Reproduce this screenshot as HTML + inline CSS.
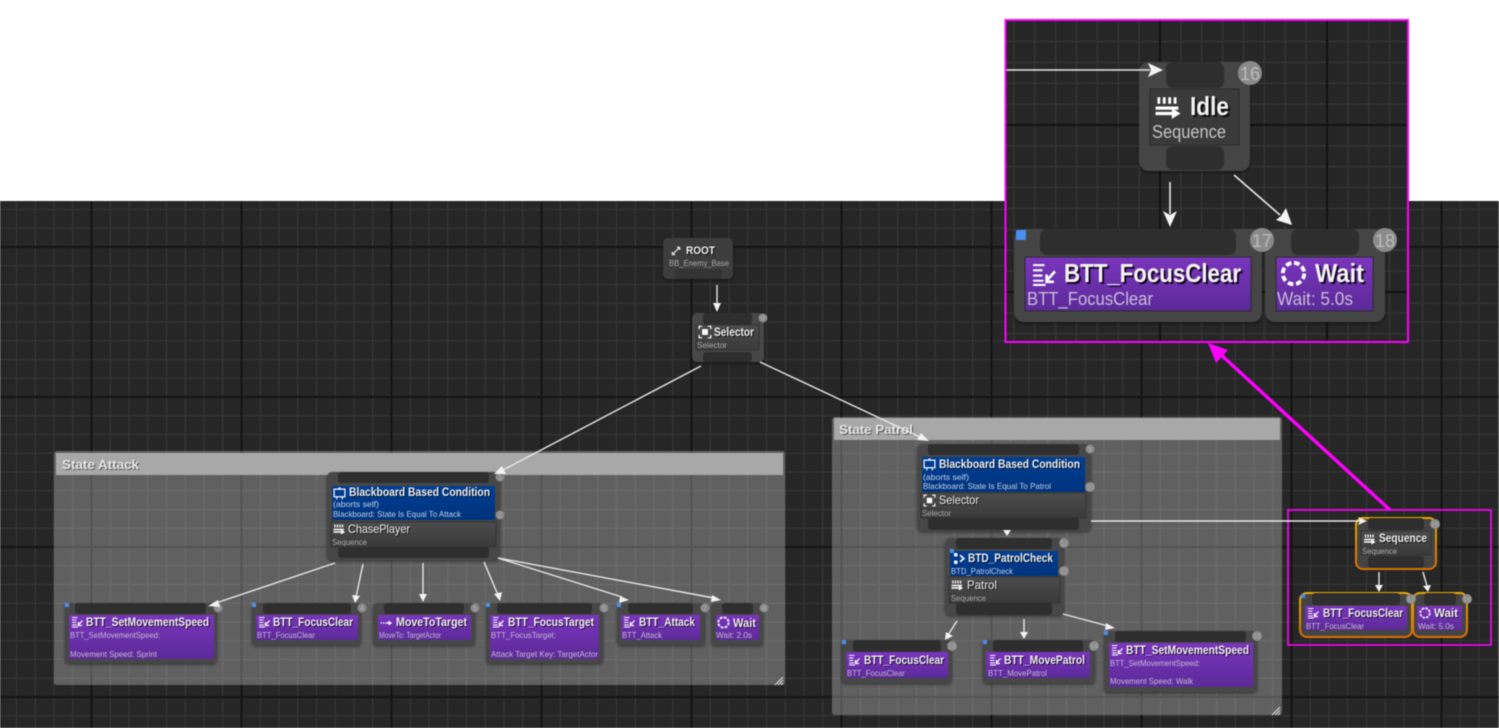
<!DOCTYPE html>
<html><head><meta charset="utf-8"><style>
html,body{margin:0;padding:0;background:#fff}
svg{display:block;filter:blur(.4px)}
text{font-family:"Liberation Sans",sans-serif}
.t{font-weight:700;font-size:12px;fill:#f2f2f2;filter:drop-shadow(1px 1px 0 rgba(0,0,0,.7))}
.s{font-size:8.5px;fill:#c4b8d4}
.g{font-size:8.5px;fill:#aaa}
.b{font-size:8.5px;fill:#c0d0e8}
.gt{font-weight:700;font-size:13px;fill:#e8e8e8;filter:drop-shadow(1px 1px 0 rgba(0,0,0,.5))}
.T{font-weight:700;font-size:26px;fill:#f4f4f4;filter:drop-shadow(2px 2px 0 rgba(0,0,0,.8))}
.S{font-size:18px;fill:#c8bcd8}
.w{stroke:#e8e8e8;stroke-width:1.4;fill:none}
.n{fill:#474747}
.p{fill:#2e2e2e}
.o{fill:#444;stroke:url(#or);stroke-width:2}
.c{font-size:7px;fill:#b0b0b0;text-anchor:middle}
.k{fill:#8a8a8a}
</style></head><body>
<svg width="1499" height="728" viewBox="0 0 1499 728" xmlns="http://www.w3.org/2000/svg">
<defs>
<pattern id="gm" patternUnits="userSpaceOnUse" x="90.5" y="96" width="150" height="150">
<rect width="150" height="150" fill="#262626"/>
<path d="M19.75 0V150M38.5 0V150M57.25 0V150M76 0V150M94.75 0V150M113.5 0V150M132.25 0V150M0 19.75H150M0 38.5H150M0 57.25H150M0 76H150M0 94.75H150M0 113.5H150M0 132.25H150" stroke="#343434" stroke-width="1.3"/>
<path d="M1 0V150M0 1H150" stroke="#111" stroke-width="1.8"/>
</pattern>
<pattern id="gi" patternUnits="userSpaceOnUse" x="1159" y="124" width="167" height="167">
<rect width="167" height="167" fill="#262626"/>
<path d="M21.9 0V167M42.75 0V167M63.6 0V167M84.5 0V167M105.4 0V167M126.25 0V167M147.1 0V167M0 21.9H167M0 42.75H167M0 63.6H167M0 84.5H167M0 105.4H167M0 126.25H167M0 147.1H167" stroke="#343434" stroke-width="1.4"/>
<path d="M1 0V167M0 1H167" stroke="#111" stroke-width="2"/>
</pattern>
<linearGradient id="pu" x1="0" y1="0" x2="0" y2="1"><stop offset="0" stop-color="#7a35bd"/><stop offset="1" stop-color="#5b2a98"/></linearGradient>
<linearGradient id="gr" x1="0" y1="0" x2="0" y2="1"><stop offset="0" stop-color="#4c4c4c"/><stop offset="1" stop-color="#3a3a3a"/></linearGradient>
<linearGradient id="bl" x1="0" y1="0" x2="0" y2="1"><stop offset="0" stop-color="#003f94"/><stop offset="1" stop-color="#00337c"/></linearGradient>
<linearGradient id="or" x1="0" y1="0" x2="0" y2="1"><stop offset="0" stop-color="#e8a800"/><stop offset="1" stop-color="#d86f00"/></linearGradient>
<filter id="ds" x="-10%" y="-10%" width="120%" height="125%"><feDropShadow dx="0" dy="1.5" stdDeviation="1.5" flood-color="#000" flood-opacity=".45"/></filter>
<symbol id="iq" viewBox="0 0 24 24"><path d="M4 3V9M9 3V9M14 3V9M19 3V9" stroke="#fff" stroke-width="2.6"/><path d="M1 13H22M1 18H17" stroke="#fff" stroke-width="3"/><path d="M16 13L24 18L16 23Z" fill="#fff"/></symbol>
<symbol id="it" viewBox="0 0 24 24"><path d="M2 3H13M2 8H11M2 13H11M2 18H12M2 22H14" stroke="#fff" stroke-width="2"/><path d="M23 9L15 18M15 12V19H22" stroke="#fff" stroke-width="2.6" fill="none"/></symbol>
<symbol id="iw" viewBox="0 0 24 24"><circle cx="12" cy="12" r="9.5" fill="none" stroke="#fff" stroke-width="3.4" stroke-dasharray="5 2.5"/></symbol>
<symbol id="is" viewBox="0 0 24 24"><path d="M2 7V2H7M17 2H22V7M2 17V22H7M17 22H22V17" stroke="#fff" stroke-width="2" fill="none"/><rect x="7" y="7" width="10" height="10" fill="#fff"/></symbol>
<symbol id="ib" viewBox="0 0 24 24"><rect x="2" y="4" width="20" height="14" fill="none" stroke="#fff" stroke-width="2.2"/><path d="M7 18V23M17 18V23M10 2H14" stroke="#fff" stroke-width="2"/></symbol>
<symbol id="id" viewBox="0 0 24 24"><circle cx="6" cy="5" r="3.5" fill="#fff"/><circle cx="6" cy="19" r="3.5" fill="#fff"/><path d="M14 6L21 12L14 18" stroke="#fff" stroke-width="3" fill="none"/></symbol>
<symbol id="ir" viewBox="0 0 24 24"><path d="M5 19L19 5M19 5H13M19 5V11M3 15V21H9" stroke="#fff" stroke-width="2.4" fill="none"/></symbol>
<symbol id="im" viewBox="0 0 24 24"><path d="M1 12H4M6 12H9M11 12H19" stroke="#fff" stroke-width="2.6"/><path d="M17 7L24 12L17 17Z" fill="#fff"/></symbol>
</defs>

<rect x="0" y="201" width="1499" height="527" fill="url(#gm)"/>

<!-- groups -->
<rect x="54" y="451" width="731" height="234" rx="3" fill="#fff" fill-opacity=".27"/>
<rect x="56" y="453" width="727" height="22" fill="#a8a8a8"/>
<text class="gt" x="62" y="469" textLength="77" lengthAdjust="spacingAndGlyphs">State Attack</text>
<path d="M783 677L775 685M783 680L778 685M783 683L781 685" stroke="#ddd" stroke-width="1"/>

<rect x="832" y="417" width="450" height="298" rx="3" fill="#fff" fill-opacity=".27"/>
<rect x="834" y="418" width="446" height="22" fill="#a8a8a8"/>
<text class="gt" x="839" y="434" textLength="74" lengthAdjust="spacingAndGlyphs">State Patrol</text>
<path d="M1280 707L1272 715M1280 710L1275 715M1280 713L1278 715" stroke="#ddd" stroke-width="1"/>

<!-- ROOT -->
<g filter="url(#ds)"><rect x="663" y="238" width="70" height="41" rx="5" fill="#3e3e3e"/></g>
<rect x="675" y="269" width="47" height="10" rx="2" fill="#343434"/>
<use href="#ir" x="671" y="245" width="11" height="11"/>
<text class="t" x="686" y="254" style="font-size:11px" textLength="29" lengthAdjust="spacingAndGlyphs">ROOT</text>
<text class="g" x="669" y="266" textLength="60" lengthAdjust="spacingAndGlyphs">BB_Enemy_Base</text>

<!-- Selector -->
<g filter="url(#ds)"><rect x="692" y="313" width="72" height="49" rx="5" class="n"/></g>
<rect x="703" y="313" width="49" height="12" rx="3" class="p"/>
<rect x="696" y="325" width="63" height="25" fill="url(#gr)" stroke="#333"/>
<rect x="703" y="352" width="49" height="10" rx="3" class="p"/>
<use href="#is" x="698" y="325" width="14" height="14"/>
<text class="t" x="714" y="336" textLength="40" lengthAdjust="spacingAndGlyphs">Selector</text>
<text class="g" x="697" y="348" textLength="30" lengthAdjust="spacingAndGlyphs">Selector</text>
<circle cx="763" cy="318" r="4.5" class="k"/><text class="c" x="763" y="320.5">0</text>

<!-- BB attack -->
<g filter="url(#ds)"><rect x="327" y="472" width="173" height="88" rx="5" class="n"/></g>
<rect x="338" y="472" width="151" height="11" rx="3" class="p"/>
<rect x="332" y="486" width="163" height="34" fill="url(#bl)"/>
<rect x="331" y="522" width="165" height="25" fill="url(#gr)" stroke="#333"/>
<rect x="338" y="547" width="151" height="11" rx="3" class="p"/>
<use href="#ib" x="333" y="487" width="13" height="13"/>
<text class="t" x="349" y="496" textLength="141" lengthAdjust="spacingAndGlyphs">Blackboard Based Condition</text>
<text class="b" x="333" y="507" textLength="46" lengthAdjust="spacingAndGlyphs">(aborts self)</text>
<text class="b" x="333" y="517" textLength="128" lengthAdjust="spacingAndGlyphs">Blackboard: State Is Equal To Attack</text>
<use href="#iq" x="333" y="523" width="12" height="12"/>
<text class="t" x="348" y="533" textLength="62" lengthAdjust="spacingAndGlyphs" style="font-weight:400">ChasePlayer</text>
<text class="g" x="332" y="545" textLength="35" lengthAdjust="spacingAndGlyphs">Sequence</text>
<circle cx="500" cy="477" r="4.5" class="k"/><text class="c" x="500" y="479.5">1</text>
<circle cx="500" cy="515" r="4.5" class="k"/><text class="c" x="500" y="517.5">2</text>

<!-- attack tasks -->
<g filter="url(#ds)"><rect x="65" y="603" width="152" height="60" rx="4" class="n"/></g>
<rect x="75" y="603" width="131" height="11" rx="3" class="p"/><rect x="69" y="615" width="145" height="44" fill="url(#pu)"/>
<use href="#it" x="71" y="616" width="12" height="12"/>
<text class="t" x="86" y="626" textLength="123" lengthAdjust="spacingAndGlyphs">BTT_SetMovementSpeed</text>
<text class="s" x="70" y="638" textLength="90" lengthAdjust="spacingAndGlyphs">BTT_SetMovementSpeed:</text>
<text class="s" x="70" y="657" textLength="87" lengthAdjust="spacingAndGlyphs">Movement Speed: Sprint</text>
<circle cx="218" cy="608" r="4.5" class="k"/><text class="c" x="218" y="610.5">3</text><rect x="65" y="603" width="4" height="4" fill="#4a8ff0"/>

<g filter="url(#ds)"><rect x="252" y="603" width="109" height="42" rx="4" class="n"/></g>
<rect x="263" y="603" width="88" height="11" rx="3" class="p"/><rect x="256" y="615" width="102" height="25" fill="url(#pu)"/>
<use href="#it" x="258" y="616" width="12" height="12"/>
<text class="t" x="273" y="626" textLength="80" lengthAdjust="spacingAndGlyphs">BTT_FocusClear</text>
<text class="s" x="257" y="638" textLength="58" lengthAdjust="spacingAndGlyphs">BTT_FocusClear</text>
<circle cx="362" cy="608" r="4.5" class="k"/><text class="c" x="362" y="610.5">4</text><rect x="252" y="603" width="4" height="4" fill="#4a8ff0"/>

<g filter="url(#ds)"><rect x="373" y="603" width="102" height="42" rx="4" class="n"/></g>
<rect x="384" y="603" width="80" height="11" rx="3" class="p"/><rect x="378" y="615" width="93" height="25" fill="url(#pu)"/>
<use href="#im" x="380" y="617" width="12" height="12"/>
<text class="t" x="396" y="626" textLength="71" lengthAdjust="spacingAndGlyphs">MoveToTarget</text>
<text class="s" x="379" y="638" textLength="62" lengthAdjust="spacingAndGlyphs">MoveTo: TargetActor</text>
<circle cx="475" cy="608" r="4.5" class="k"/><text class="c" x="475" y="610.5">5</text>

<g filter="url(#ds)"><rect x="486" y="603" width="117" height="60" rx="4" class="n"/></g>
<rect x="497" y="603" width="95" height="11" rx="3" class="p"/><rect x="490" y="615" width="109" height="44" fill="url(#pu)"/>
<use href="#it" x="492" y="616" width="12" height="12"/>
<text class="t" x="508" y="626" textLength="86" lengthAdjust="spacingAndGlyphs">BTT_FocusTarget</text>
<text class="s" x="491" y="638" textLength="65" lengthAdjust="spacingAndGlyphs">BTT_FocusTarget:</text>
<text class="s" x="491" y="657" textLength="107" lengthAdjust="spacingAndGlyphs">Attack Target Key: TargetActor</text>
<circle cx="604" cy="608" r="4.5" class="k"/><text class="c" x="604" y="610.5">6</text><rect x="486" y="603" width="4" height="4" fill="#4a8ff0"/>

<g filter="url(#ds)"><rect x="617" y="603" width="88" height="42" rx="4" class="n"/></g>
<rect x="628" y="603" width="65" height="11" rx="3" class="p"/><rect x="621" y="615" width="79" height="25" fill="url(#pu)"/>
<use href="#it" x="623" y="616" width="12" height="12"/>
<text class="t" x="639" y="626" textLength="56" lengthAdjust="spacingAndGlyphs">BTT_Attack</text>
<text class="s" x="622" y="638" textLength="40" lengthAdjust="spacingAndGlyphs">BTT_Attack</text>
<circle cx="705" cy="608" r="4.5" class="k"/><text class="c" x="705" y="610.5">7</text><rect x="617" y="603" width="4" height="4" fill="#4a8ff0"/>

<g filter="url(#ds)"><rect x="711" y="603" width="52" height="42" rx="4" class="n"/></g>
<rect x="722" y="603" width="31" height="11" rx="3" class="p"/><rect x="716" y="615" width="43" height="25" fill="url(#pu)"/>
<use href="#iw" x="717" y="616" width="13" height="13"/>
<text class="t" x="733" y="627" textLength="23" lengthAdjust="spacingAndGlyphs">Wait</text>
<text class="s" x="716" y="638" textLength="36" lengthAdjust="spacingAndGlyphs">Wait: 2.0s</text>
<circle cx="764" cy="608" r="4.5" class="k"/><text class="c" x="764" y="610.5">8</text>

<!-- BB patrol -->
<g filter="url(#ds)"><rect x="917" y="444" width="174" height="87" rx="5" class="n"/></g>
<rect x="928" y="444" width="151" height="11" rx="3" class="p"/>
<rect x="922" y="457" width="163" height="35" fill="url(#bl)"/>
<rect x="921" y="493" width="165" height="25" fill="url(#gr)" stroke="#333"/>
<rect x="928" y="518" width="151" height="12" rx="3" class="p"/>
<use href="#ib" x="923" y="458" width="13" height="13"/>
<text class="t" x="939" y="468" textLength="141" lengthAdjust="spacingAndGlyphs">Blackboard Based Condition</text>
<text class="b" x="923" y="480" textLength="46" lengthAdjust="spacingAndGlyphs">(aborts self)</text>
<text class="b" x="923" y="489" textLength="128" lengthAdjust="spacingAndGlyphs">Blackboard: State Is Equal To Patrol</text>
<use href="#is" x="923" y="494" width="13" height="13"/>
<text class="t" x="939" y="504" textLength="40" lengthAdjust="spacingAndGlyphs" style="font-weight:400">Selector</text>
<text class="g" x="922" y="516" textLength="29" lengthAdjust="spacingAndGlyphs">Selector</text>
<circle cx="1090" cy="449" r="4.5" class="k"/><text class="c" x="1090" y="451.5">9</text>
<circle cx="1090" cy="487" r="5" class="k"/><text class="c" x="1090" y="489.5">10</text>

<!-- BTD -->
<g filter="url(#ds)"><rect x="945" y="538" width="119" height="77" rx="5" class="n"/></g>
<rect x="956" y="538" width="96" height="11" rx="3" class="p"/>
<rect x="950" y="551" width="108" height="25" fill="url(#bl)"/>
<rect x="949" y="577" width="111" height="26" fill="url(#gr)" stroke="#333"/>
<rect x="956" y="603" width="96" height="12" rx="3" class="p"/>
<use href="#id" x="952" y="552" width="14" height="13"/>
<text class="t" x="968" y="562" textLength="85" lengthAdjust="spacingAndGlyphs">BTD_PatrolCheck</text>
<text class="b" x="951" y="574" textLength="62" lengthAdjust="spacingAndGlyphs">BTD_PatrolCheck</text>
<use href="#iq" x="951" y="579" width="12" height="12"/>
<text class="t" x="967" y="589" textLength="30" lengthAdjust="spacingAndGlyphs" style="font-weight:400">Patrol</text>
<text class="g" x="951" y="601" textLength="35" lengthAdjust="spacingAndGlyphs">Sequence</text>
<circle cx="1064" cy="543" r="5" class="k"/><text class="c" x="1064" y="545.5">11</text>
<circle cx="1064" cy="571" r="5" class="k"/><text class="c" x="1064" y="573.5">12</text>
<rect x="950" y="549" width="4" height="4" fill="#4a8ff0"/>

<!-- patrol tasks -->
<g filter="url(#ds)"><rect x="842" y="640" width="110" height="43" rx="4" class="n"/></g>
<rect x="853" y="640" width="88" height="12" rx="3" class="p"/><rect x="846" y="652" width="102" height="26" fill="url(#pu)"/>
<use href="#it" x="848" y="654" width="12" height="12"/>
<text class="t" x="864" y="664" textLength="80" lengthAdjust="spacingAndGlyphs">BTT_FocusClear</text>
<text class="s" x="847" y="676" textLength="58" lengthAdjust="spacingAndGlyphs">BTT_FocusClear</text>
<circle cx="952" cy="646" r="5" class="k"/><text class="c" x="952" y="648.5">13</text><rect x="842" y="640" width="4" height="4" fill="#4a8ff0"/>

<g filter="url(#ds)"><rect x="983" y="640" width="112" height="43" rx="4" class="n"/></g>
<rect x="993" y="640" width="90" height="12" rx="3" class="p"/><rect x="986" y="652" width="104" height="26" fill="url(#pu)"/>
<use href="#it" x="989" y="654" width="12" height="12"/>
<text class="t" x="1004" y="664" textLength="81" lengthAdjust="spacingAndGlyphs">BTT_MovePatrol</text>
<text class="s" x="988" y="676" textLength="59" lengthAdjust="spacingAndGlyphs">BTT_MovePatrol</text>
<circle cx="1094" cy="646" r="5" class="k"/><text class="c" x="1094" y="648.5">14</text><rect x="983" y="640" width="4" height="4" fill="#4a8ff0"/>

<g filter="url(#ds)"><rect x="1104" y="631" width="153" height="61" rx="4" class="n"/></g>
<rect x="1115" y="631" width="131" height="11" rx="3" class="p"/><rect x="1109" y="643" width="144" height="44" fill="url(#pu)"/>
<use href="#it" x="1111" y="644" width="12" height="12"/>
<text class="t" x="1126" y="654" textLength="123" lengthAdjust="spacingAndGlyphs">BTT_SetMovementSpeed</text>
<text class="s" x="1110" y="666" textLength="90" lengthAdjust="spacingAndGlyphs">BTT_SetMovementSpeed:</text>
<text class="s" x="1110" y="684" textLength="83" lengthAdjust="spacingAndGlyphs">Movement Speed: Walk</text>
<circle cx="1257" cy="636" r="5" class="k"/><text class="c" x="1257" y="638.5">15</text><rect x="1104" y="631" width="4" height="4" fill="#4a8ff0"/>

<!-- small highlighted group -->
<rect x="1356" y="518" width="80" height="51" rx="7" class="o"/>
<rect x="1368" y="518" width="56" height="12" rx="3" class="p"/>
<rect x="1361" y="531" width="70" height="24" fill="url(#gr)" stroke="#333"/>
<rect x="1368" y="556" width="56" height="12" rx="3" class="p"/>
<use href="#iq" x="1363" y="533" width="13" height="12"/>
<text class="t" x="1379" y="542" textLength="48" lengthAdjust="spacingAndGlyphs">Sequence</text>
<text class="g" x="1362" y="554" textLength="35" lengthAdjust="spacingAndGlyphs">Sequence</text>
<circle cx="1435" cy="524" r="5" class="k"/><text class="c" x="1435" y="526.5">16</text>

<rect x="1413" y="593" width="54" height="44" rx="7" class="o"/>
<rect x="1424" y="593" width="32" height="12" rx="3" class="p"/>
<rect x="1417" y="606" width="45" height="24" fill="url(#pu)"/>
<use href="#iw" x="1419" y="607" width="12" height="12"/>
<text class="t" x="1434" y="617" textLength="24" lengthAdjust="spacingAndGlyphs">Wait</text>
<text class="s" x="1418" y="629" textLength="36" lengthAdjust="spacingAndGlyphs">Wait: 5.0s</text>
<circle cx="1467" cy="599" r="5" class="k"/><text class="c" x="1467" y="601.5">18</text>

<rect x="1300" y="593" width="112" height="44" rx="7" class="o"/>
<rect x="1312" y="593" width="88" height="12" rx="3" class="p"/>
<rect x="1305" y="606" width="102" height="24" fill="url(#pu)"/>
<use href="#it" x="1307" y="607" width="12" height="12"/>
<text class="t" x="1323" y="617" textLength="80" lengthAdjust="spacingAndGlyphs">BTT_FocusClear</text>
<text class="s" x="1306" y="629" textLength="58" lengthAdjust="spacingAndGlyphs">BTT_FocusClear</text>
<circle cx="1411" cy="599" r="5" class="k"/><text class="c" x="1411" y="601.5">17</text><rect x="1301" y="594" width="4" height="4" fill="#4a8ff0"/>

<rect x="1288" y="510" width="203" height="135" fill="none" stroke="#f0f" stroke-width="1.6"/>

<!-- wires -->
<g class="w">
<path d="M717 285V305"/>
<path d="M701 366L503 470"/>
<path d="M760 362L920 437"/>
<path d="M335 563L216 603"/>
<path d="M363 564L356 597"/>
<path d="M423 563V595"/>
<path d="M484 562L498 595"/>
<path d="M498 558L622 597"/>
<path d="M498 558L714 598"/>
<path d="M957 621L948 635"/>
<path d="M1024 619V633"/>
<path d="M1063 614L1108 626"/>
<path d="M1091 521H1360"/>
<path d="M1379 572V586"/>
<path d="M1423 572L1427 586"/>
</g>
<g fill="#f2f2f2">
<path d="M717 312L713 303H721Z"/>
<path d="M494 474L506 474L502 466Z"/>
<path d="M929 441L921 433L917 440Z"/>
<path d="M208 606L218 600L220 607Z"/>
<path d="M355 603L352 595L360 596Z"/>
<path d="M423 602L419 594H427Z"/>
<path d="M500 601L494 594L502 592Z"/>
<path d="M629 600L620 596L619 603Z"/>
<path d="M721 600L712 595L711 602Z"/>
<path d="M945 640L946 632L953 636Z"/>
<path d="M1024 639L1020 632H1028Z"/>
<path d="M1115 628L1106 623L1105 630Z"/>
<path d="M1007 536L1003 530H1011Z"/>
<path d="M1367 521L1358 517L1360 521L1358 525Z"/>
<path d="M1379 592L1375 585H1383Z"/>
<path d="M1428 592L1423 586L1431 585Z"/>
</g>

<!-- big arrow -->
<path d="M1390 510L1218 352" stroke="#f0f" stroke-width="3.4" fill="none"/>
<path d="M1208 343L1228 350L1216 363Z" fill="#f0f"/>

<!-- inset -->
<rect x="1006" y="21" width="402" height="321" fill="url(#gi)"/>
<g filter="url(#ds)"><rect x="1139" y="62" width="111" height="109" rx="10" fill="#444"/></g>
<rect x="1166" y="62" width="58" height="26" rx="7" class="p"/>
<rect x="1150" y="89" width="89" height="56" fill="#3a3a3a" stroke="#2a2a2a"/>
<rect x="1166" y="146" width="58" height="24" rx="7" class="p"/>
<use href="#iq" x="1154" y="94" width="27" height="26"/>
<text class="T" x="1190" y="115" textLength="39" lengthAdjust="spacingAndGlyphs">Idle</text>
<text class="S" x="1152" y="138" textLength="74" lengthAdjust="spacingAndGlyphs" style="fill:#c4c4c4">Sequence</text>
<circle cx="1250" cy="73" r="12" class="k"/>
<text x="1250" y="80" text-anchor="middle" font-size="18" fill="#bbb">16</text>

<g filter="url(#ds)"><rect x="1265" y="229" width="120" height="93" rx="10" fill="#444"/></g>
<rect x="1291" y="229" width="68" height="26" rx="7" class="p"/>
<rect x="1276" y="257" width="97" height="54" fill="url(#pu)" stroke="#2a2a2a"/>
<use href="#iw" x="1280" y="260" width="27" height="27"/>
<text class="T" x="1315" y="282" textLength="49" lengthAdjust="spacingAndGlyphs">Wait</text>
<text class="S" x="1277" y="305" textLength="76" lengthAdjust="spacingAndGlyphs">Wait: 5.0s</text>
<circle cx="1385" cy="240" r="12" class="k"/>
<text x="1385" y="247" text-anchor="middle" font-size="18" fill="#bbb">18</text>

<g filter="url(#ds)"><rect x="1014" y="229" width="248" height="93" rx="10" fill="#444"/></g>
<rect x="1040" y="229" width="196" height="26" rx="7" class="p"/>
<rect x="1025" y="257" width="226" height="54" fill="url(#pu)" stroke="#2a2a2a"/>
<use href="#it" x="1030" y="262" width="27" height="25"/>
<text class="T" x="1064" y="282" textLength="177" lengthAdjust="spacingAndGlyphs">BTT_FocusClear</text>
<text class="S" x="1027" y="305" textLength="126" lengthAdjust="spacingAndGlyphs">BTT_FocusClear</text>
<circle cx="1262" cy="240" r="12" class="k"/>
<text x="1262" y="247" text-anchor="middle" font-size="18" fill="#bbb">17</text>
<rect x="1016" y="230" width="10" height="10" fill="#4a8ff0"/>

<g class="w" style="stroke-width:1.6"><path d="M1006 70H1150"/><path d="M1170 182V214"/><path d="M1234 175L1280 215"/></g>
<g fill="#f4f4f4">
<path d="M1163 70L1148 63L1151 70L1148 77Z"/>
<path d="M1170 227L1163 211L1170 215L1177 211Z"/>
<path d="M1292 225L1276 220L1281 216L1286 208Z"/>
</g>
<rect x="1005.5" y="20" width="402.5" height="322" fill="none" stroke="#f0f" stroke-width="2"/>
</svg>
</body></html>
